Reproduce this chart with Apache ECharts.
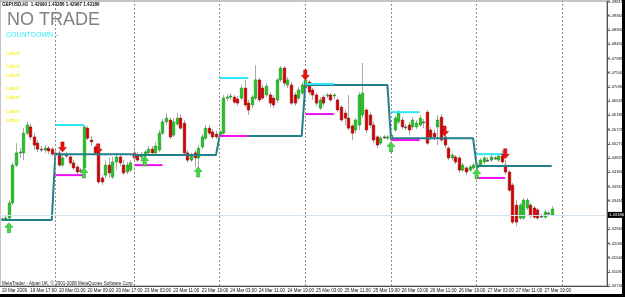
<!DOCTYPE html>
<html>
<head>
<meta charset="utf-8">
<script src="https://cdn.jsdelivr.net/npm/echarts@6/dist/echarts.min.js"></script>
<style>
  html, body { margin: 0; padding: 0; background: #fff; }
  #chart { width: 625px; height: 297px; }
</style>
</head>
<body>
<div id="chart"></div>
<script>
// GBPUSD H1, 19 Mar 09:00 .. 27 Mar 21:00 (2009)
const days = [['19 Mar', 9, 23], ['20 Mar', 0, 21], ['23 Mar', 0, 23], ['24 Mar', 0, 23],
  ['25 Mar', 0, 23], ['26 Mar', 0, 23], ['27 Mar', 0, 23], ['28 Mar', 0, 12]];

const open = [
  1.4287,1.4287,1.4290,1.4338,1.4459,1.4498,1.4498,1.4561,1.4581,1.4549,
  1.4529,1.4510,1.4507,1.4513,1.4510,1.4498,1.4498,1.4459,1.4491,1.4485,
  1.4466,1.4453,1.4443,1.4450,1.4577,1.4539,1.4517,1.4501,1.4418,1.4427,
  1.4459,1.4421,1.4469,1.4485,1.4459,1.4437,1.4443,1.4498,1.4491,1.4485,
  1.4488,1.4498,1.4510,1.4498,1.4507,1.4561,1.4597,1.4603,1.4555,1.4590,
  1.4609,1.4593,1.4498,1.4475,1.4498,1.4482,1.4517,1.4545,1.4577,1.4565,
  1.4558,1.4555,1.4561,1.4673,1.4676,1.4676,1.4670,1.4673,1.4705,1.4657,
  1.4651,1.4673,1.4731,1.4705,1.4683,1.4683,1.4673,1.4667,1.4731,1.4769,
  1.4715,1.4715,1.4683,1.4673,1.4689,1.4705,1.4724,1.4699,1.4683,1.4641,
  1.4676,1.4680,1.4683,1.4680,1.4667,1.4644,1.4625,1.4609,1.4584,1.4571,
  1.4587,1.4619,1.4635,1.4619,1.4587,1.4549,1.4529,1.4549,1.4545,1.4539,
  1.4571,1.4597,1.4603,1.4581,1.4587,1.4581,1.4581,1.4587,1.4597,1.4628,
  1.4571,1.4561,1.4581,1.4612,1.4549,1.4513,1.4482,1.4485,1.4482,1.4443,
  1.4450,1.4443,1.4450,1.4450,1.4459,1.4469,1.4475,1.4475,1.4482,1.4475,
  1.4488,1.4459,1.4437,1.4395,1.4331,1.4290,1.4290,1.4322,1.4331,1.4322,
  1.4316,1.4296,1.4293,1.4306,1.42990];
const close = [
  1.4287,1.4290,1.4338,1.4459,1.4498,1.4501,1.4561,1.4587,1.4549,1.4523,
  1.4510,1.4510,1.4513,1.4504,1.4494,1.4498,1.4459,1.4482,1.4491,1.4466,
  1.4450,1.4437,1.4443,1.4581,1.4545,1.4533,1.4498,1.4405,1.4405,1.4459,
  1.4434,1.4469,1.4485,1.4466,1.4434,1.4459,1.4466,1.4482,1.4475,1.4494,
  1.4501,1.4510,1.4498,1.4520,1.4561,1.4597,1.4609,1.4549,1.4597,1.4609,
  1.4577,1.4498,1.4475,1.4491,1.4482,1.4513,1.4549,1.4577,1.4561,1.4549,
  1.4549,1.4565,1.4673,1.4676,1.4680,1.4660,1.4657,1.4705,1.4651,1.4635,
  1.4676,1.4731,1.4667,1.4673,1.4711,1.4657,1.4651,1.4731,1.4769,1.4721,
  1.4731,1.4657,1.4657,1.4699,1.4715,1.4731,1.4692,1.4683,1.4657,1.4667,
  1.4657,1.4683,1.4667,1.4683,1.4635,1.4603,1.4609,1.4577,1.4561,1.4603,
  1.4683,1.4689,1.4571,1.4587,1.4539,1.4523,1.4545,1.4549,1.4549,1.4555,
  1.4609,1.4628,1.4581,1.4581,1.4571,1.4603,1.4593,1.4609,1.4597,1.4529,
  1.4549,1.4549,1.4603,1.4539,1.4523,1.4482,1.4491,1.4469,1.4443,1.4459,
  1.4437,1.4453,1.4459,1.4459,1.4475,1.4482,1.4475,1.4485,1.4482,1.4488,
  1.4469,1.4437,1.4379,1.4277,1.4277,1.4331,1.4347,1.4347,1.4300,1.4293,
  1.4290,1.4296,1.4309,1.4306,1.43186];
const high = [
  1.4293,1.4300,1.4347,1.4466,1.4529,1.4513,1.4577,1.4597,1.4590,1.4561,
  1.4539,1.4520,1.4523,1.4520,1.4517,1.4507,1.4507,1.4491,1.4501,1.4494,
  1.4475,1.4459,1.4450,1.4587,1.4584,1.4552,1.4523,1.4513,1.4427,1.4475,
  1.4482,1.4485,1.4491,1.4491,1.4475,1.4469,1.4475,1.4507,1.4501,1.4501,
  1.4507,1.4520,1.4520,1.4533,1.4571,1.4606,1.4625,1.4612,1.4609,1.4625,
  1.4622,1.4603,1.4507,1.4498,1.4507,1.4523,1.4558,1.4587,1.4587,1.4574,
  1.4568,1.4571,1.4683,1.4686,1.4689,1.4683,1.4680,1.4715,1.4731,1.4667,
  1.4683,1.4778,1.4737,1.4715,1.4721,1.4692,1.4683,1.4737,1.4775,1.4775,
  1.4740,1.4724,1.4692,1.4708,1.4724,1.4740,1.4731,1.4705,1.4689,1.4676,
  1.4683,1.4689,1.4689,1.4689,1.4673,1.4651,1.4635,1.4683,1.4590,1.4609,
  1.4692,1.4785,1.4641,1.4628,1.4597,1.4555,1.4552,1.4555,1.4555,1.4561,
  1.4616,1.4635,1.4612,1.4590,1.4597,1.4612,1.4603,1.4619,1.4606,1.4635,
  1.4581,1.4571,1.4619,1.4622,1.4555,1.4520,1.4498,1.4491,1.4488,1.4466,
  1.4456,1.4459,1.4466,1.4466,1.4482,1.4488,1.4485,1.4491,1.4488,1.4494,
  1.4507,1.4475,1.4443,1.4402,1.4347,1.4338,1.4354,1.4354,1.4338,1.4328,
  1.4322,1.4303,1.4316,1.4312,1.43286];
const low = [
  1.4280,1.4280,1.4284,1.4331,1.4453,1.4482,1.4475,1.4555,1.4539,1.4507,
  1.4501,1.4501,1.4498,1.4494,1.4488,1.4488,1.4453,1.4453,1.4482,1.4459,
  1.4443,1.4430,1.4434,1.4443,1.4539,1.4520,1.4491,1.4399,1.4395,1.4418,
  1.4418,1.4415,1.4443,1.4456,1.4427,1.4430,1.4437,1.4475,1.4469,1.4478,
  1.4482,1.4491,1.4491,1.4491,1.4501,1.4555,1.4587,1.4542,1.4549,1.4584,
  1.4571,1.4488,1.4466,1.4469,1.4453,1.4450,1.4510,1.4539,1.4555,1.4542,
  1.4542,1.4549,1.4555,1.4664,1.4667,1.4654,1.4648,1.4667,1.4644,1.4619,
  1.4641,1.4667,1.4660,1.4667,1.4676,1.4644,1.4641,1.4657,1.4724,1.4711,
  1.4705,1.4651,1.4648,1.4667,1.4683,1.4699,1.4683,1.4667,1.4648,1.4635,
  1.4648,1.4673,1.4660,1.4670,1.4628,1.4597,1.4587,1.4571,1.4539,1.4561,
  1.4571,1.4609,1.4561,1.4577,1.4529,1.4513,1.4523,1.4542,1.4539,1.4533,
  1.4565,1.4590,1.4574,1.4571,1.4555,1.4571,1.4574,1.4581,1.4577,1.4523,
  1.4539,1.4539,1.4523,1.4533,1.4513,1.4475,1.4475,1.4462,1.4434,1.4437,
  1.4427,1.4437,1.4443,1.4443,1.4453,1.4462,1.4469,1.4469,1.4475,1.4469,
  1.4462,1.4427,1.4373,1.4271,1.4264,1.4284,1.4284,1.4316,1.4290,1.4287,
  1.4284,1.4290,1.4287,1.4300,1.42967];

// daily levels (one per trading day, 19 Mar .. 27 Mar)
const pivotLevel = [1.4284, 1.4494, 1.4491, 1.4552, 1.4715, 1.4545, 1.4456];
const upperLevel = [null, 1.4587, null, 1.4737, 1.4718, 1.4628, 1.4494];
const lowerLevel = [null, 1.4427, 1.4459, 1.4552, 1.4622, 1.4539, 1.4418];

// signal arrows: bar index + price
const buyBars = [2, 23, 40, 55, 109, 133];
const buyPrices = [1.4259, 1.4434, 1.4472, 1.4437, 1.4517, 1.4431];
const sellBars = [17, 27, 85, 124, 141];
const sellPrices = [1.4517, 1.4511, 1.4747, 1.4568, 1.4495];

const yTicks = ['1.49815','1.49360','1.48900','1.48450','1.47995','1.47540','1.47090',
  '1.46635','1.46180','1.45725','1.45270','1.44820','1.44360','1.43910','1.43455',
  '1.43000','1.42550','1.42090','1.41640','1.41180','1.40730'];
const bidPrice = 1.43186;
const labelRows = [51, 64, 73, 86, 95, 109, 118];

// build categories
const cats = [];
const dayStart = [];
days.forEach(d => {
  dayStart.push(cats.length);
  for (let h = d[1]; h <= d[2]; h++) cats.push(d[0] + ' ' + (h < 10 ? '0' : '') + h + ':00');
});
const nBars = open.length;

const candles = open.map((o, i) => [i, o, close[i], low[i], high[i]]);
const pivotLine = [];
pivotLevel.forEach((v, d) => {
  const s = dayStart[d];
  const e = Math.min(dayStart[d + 1] - 1, nBars - 1);
  pivotLine.push([s, v], [e, v]);
});
const segs = arr => arr.map((v, d) => v == null ? null : [dayStart[d], dayStart[d] + 8, v]).filter(Boolean);

function renderCandle(params, api) {
  const i = api.value(0);
  const o = api.value(1), c = api.value(2);
  const pO = api.coord([i, o]), pC = api.coord([i, c]);
  const pL = api.coord([i, api.value(3)]), pH = api.coord([i, api.value(4)]);
  const w = Math.max(2, api.size([1, 0])[0] * 0.72);
  const x = Math.round(pO[0]) + 0.5;
  const top = Math.min(pO[1], pC[1]);
  const hgt = Math.max(1, Math.abs(pO[1] - pC[1]));
  const up = c > o, flat = c === o;
  return {
    type: 'group',
    children: [
      { type: 'line', shape: { x1: x, y1: pH[1], x2: x, y2: pL[1] }, style: { stroke: '#a8a8a8', lineWidth: 1 } },
      { type: 'rect', shape: { x: x - w / 2, y: top, width: w, height: hgt },
        style: { fill: flat ? '#505050' : (up ? '#22c422' : '#d40000'),
                 stroke: flat ? '#505050' : (up ? '#138a13' : '#8c0000'), lineWidth: 0.5 } }
    ]
  };
}
function segRenderer(color) {
  return function (params, api) {
    const a = api.coord([api.value(0), api.value(2)]);
    const b = api.coord([api.value(1), api.value(2)]);
    return { type: 'line', shape: { x1: a[0], y1: a[1], x2: b[0], y2: b[1] }, style: { stroke: color, lineWidth: 2 } };
  };
}

const chart = echarts.init(document.getElementById('chart'), null, { renderer: 'canvas' });
const smallFont = 'Liberation Sans';
const labelEvery = (i) => i % 8 === 0 && i < nBars;

chart.setOption({
  animation: false,
  backgroundColor: '#fff',
  grid: { left: 0, right: 18, top: 1, bottom: 11, show: true, borderColor: '#8a8a8a', borderWidth: 1,
    outerBoundsMode: 'none' },
  xAxis: {
    type: 'category', data: cats, boundaryGap: true,
    axisLine: { lineStyle: { color: '#505050', width: 1 } },
    axisTick: { alignWithLabel: true, interval: labelEvery, length: 3, lineStyle: { color: '#505050' } },
    axisLabel: { interval: labelEvery, align: 'left', fontSize: 4.5, color: '#111', margin: 2,
      fontFamily: smallFont, formatter: (v, i) => i === 0 ? '19 Mar 2009' : v },
    splitLine: { show: false }
  },
  yAxis: {
    type: 'value', position: 'right', min: 1.4073, max: 1.4983,
    axisLine: { show: true, lineStyle: { color: '#505050' } },
    axisTick: { show: true, length: 2, customValues: yTicks.map(Number), lineStyle: { color: '#505050' } },
    axisLabel: { customValues: yTicks.map(Number), formatter: v => v.toFixed(5), fontSize: 4.2,
      color: '#111', margin: 1, fontFamily: smallFont },
    splitLine: { show: false }
  },
  series: [
    {
      type: 'line', data: [], z: 1, silent: true,
      markLine: {
        symbol: ['none', 'none'], silent: true, animation: false,
        data: [
          ...dayStart.slice(1, 7).concat([dayStart[7]]).map(s => ({ xAxis: s,
            lineStyle: { color: '#8c8c8c', type: [2, 2], width: 1 }, label: { show: false } })),
          { yAxis: bidPrice, lineStyle: { color: '#d4e2ee', type: 'solid', width: 1 },
            label: { show: true, position: 'end', distance: 1, formatter: '1.43186', color: '#fff',
              backgroundColor: '#000', fontSize: 4.2, padding: [1, 1], fontFamily: smallFont } }
        ]
      }
    },
    { type: 'custom', name: 'GBPUSD', data: candles, renderItem: renderCandle,
      encode: { x: 0, y: [1, 2, 3, 4] }, z: 2, clip: true },
    { type: 'line', data: pivotLine, symbol: 'none', z: 3,
      lineStyle: { color: '#21808a', width: 2 } },
    { type: 'custom', data: segs(upperLevel), renderItem: segRenderer('#2fe6f6'),
      encode: { x: [0, 1], y: 2 }, z: 4 },
    { type: 'custom', data: segs(lowerLevel), renderItem: segRenderer('#ee10ee'),
      encode: { x: [0, 1], y: 2 }, z: 4 },
    { type: 'scatter', data: buyBars.map((b, i) => [b, buyPrices[i]]), z: 5,
      symbol: 'path://M5 0 L10 5 L7 5 L7 11 L3 11 L3 5 L0 5 Z', symbolSize: [8, 10],
      itemStyle: { color: '#44d844', borderColor: '#1f9a1f', borderWidth: 0.5, opacity: 1 } },
    { type: 'scatter', data: sellBars.map((b, i) => [b, sellPrices[i]]), z: 5,
      symbol: 'path://M3 0 L7 0 L7 6 L10 6 L5 11 L0 6 L3 6 Z', symbolSize: [8, 10],
      itemStyle: { color: '#ee1010', borderColor: '#a00000', borderWidth: 0.5, opacity: 1 } }
  ],
  graphic: [
    { type: 'text', left: 2, top: 2, style: { text: 'GBPUSD,H1  1.42990 1.43286 1.42967 1.43186',
      font: 'bold 4.5px Liberation Sans', fill: '#111' } },
    { type: 'text', left: 7, top: 11, style: { text: 'NO TRADE', font: '18px Liberation Sans', fill: '#808080' } },
    { type: 'text', left: 6, top: 32, style: { text: 'COUNTDOWN', font: '7px Liberation Sans', fill: '#33eef8' } },
    { type: 'text', left: 56, top: 32, style: { text: '-', font: '7px Liberation Sans', fill: '#909090' } },
    ...labelRows.map(t => ({ type: 'text', left: 6, top: t,
      style: { text: 'Label', font: 'bold 5px Liberation Sans', fill: '#f2f23a' } })),
    { type: 'text', left: 2, top: 281, style: { text: 'MetaTrader - Alpari UK, \u00a9 2001-2008 MetaQuotes Software Corp.',
      font: '4.5px Liberation Sans', fill: '#222' } },
    { type: 'rect', left: 622, top: 0, shape: { width: 3, height: 297 }, style: { fill: '#000' } },
    { type: 'rect', left: 0, top: 294, shape: { width: 625, height: 3 }, style: { fill: '#000' } }
  ]
});
</script>
</body>
</html>
